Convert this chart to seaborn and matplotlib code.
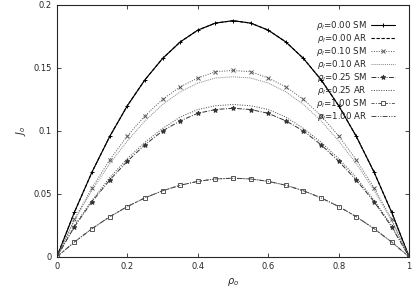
import numpy as np
import pandas as pd
import matplotlib
matplotlib.use("Agg")
import matplotlib.pyplot as plt
import seaborn as sns

rho_o = [0.0, 0.05, 0.1, 0.15, 0.2, 0.25, 0.3, 0.35, 0.4, 0.45, 0.5,
         0.55, 0.6, 0.65, 0.7, 0.75, 0.8, 0.85, 0.9, 0.95, 1.0]

half_sm000 = [0, 0.0356, 0.0675, 0.0956, 0.120, 0.1406, 0.1575, 0.1706, 0.180, 0.1856, 0.1875]
half_ar000 = [0, 0.0356, 0.0675, 0.0956, 0.120, 0.1406, 0.1575, 0.1706, 0.180, 0.1856, 0.1875]
half_sm010 = [0, 0.030, 0.055, 0.077, 0.096, 0.112, 0.125, 0.135, 0.142, 0.147, 0.148]
half_ar010 = [0, 0.029, 0.053, 0.074, 0.092, 0.108, 0.121, 0.131, 0.138, 0.142, 0.143]
half_sm025 = [0, 0.024, 0.044, 0.061, 0.076, 0.089, 0.100, 0.108, 0.114, 0.117, 0.118]
half_ar025 = [0, 0.025, 0.045, 0.063, 0.078, 0.091, 0.102, 0.111, 0.117, 0.120, 0.121]
half_sm100 = [0, 0.0119, 0.0225, 0.0319, 0.040, 0.0469, 0.0525, 0.0569, 0.060, 0.0619, 0.0625]
half_ar100 = [0, 0.0119, 0.0225, 0.0319, 0.040, 0.0469, 0.0525, 0.0569, 0.060, 0.0619, 0.0625]


def mirror(h):
    return h + h[-2::-1]


labels = [r"$\rho_l$=0.00 SM", r"$\rho_l$=0.00 AR",
          r"$\rho_l$=0.10 SM", r"$\rho_l$=0.10 AR",
          r"$\rho_l$=0.25 SM", r"$\rho_l$=0.25 AR",
          r"$\rho_l$=1.00 SM", r"$\rho_l$=1.00 AR"]
series = [half_sm000, half_ar000, half_sm010, half_ar010,
          half_sm025, half_ar025, half_sm100, half_ar100]

styles = [
    dict(color="black", ls="-", marker="+", ms=3.5, lw=0.8),
    dict(color="black", ls=(0, (3, 1.5)), marker=None, lw=0.8),
    dict(color="#555555", ls=(0, (1, 1.5)), marker="x", ms=3, lw=0.7),
    dict(color="#888888", ls=(0, (1, 1)), marker=None, lw=0.7),
    dict(color="#333333", ls=(0, (5, 1.5, 1, 1.5)), marker="*", ms=3.5, lw=0.7),
    dict(color="#444444", ls=(0, (1, 1.5)), marker=None, lw=0.7),
    dict(color="#555555", ls=(0, (3, 1.5, 1, 1.5)), marker="s", ms=2.5, mfc="white", lw=0.7),
    dict(color="#444444", ls=(0, (5, 1.5, 1, 1.5, 1, 1.5)), marker=None, lw=0.7),
]

sns.set_style("ticks")
plt.rcParams["font.family"] = ["DejaVu Sans"]
fig = plt.figure(figsize=(4.15, 2.91), dpi=100)
ax = fig.add_axes([0.137, 0.117, 0.849, 0.866])

for lab, h, st in zip(labels, series, styles):
    df = pd.DataFrame({"x": rho_o, "y": mirror(h)})
    kw = dict(st)
    marker = kw.pop("marker")
    ls = kw.pop("ls")
    sns.lineplot(data=df, x="x", y="y", ax=ax, label=lab,
                 marker=marker if marker else None,
                 mec=kw.get("color"), mew=0.7, **kw)
    ax.lines[-1].set_linestyle(ls)

ax.set_xlim(0, 1)
ax.set_ylim(0, 0.2)
ax.set_xticks([0, 0.2, 0.4, 0.6, 0.8, 1])
ax.set_xticklabels(["0", "0.2", "0.4", "0.6", "0.8", "1"])
ax.set_yticks([0, 0.05, 0.1, 0.15, 0.2])
ax.set_yticklabels(["0", "0.05", "0.1", "0.15", "0.2"])
ax.tick_params(direction="in", top=True, right=True, labelsize=6, length=3, width=0.6)
for s in ax.spines.values():
    s.set_linewidth(0.8)
ax.set_xlabel(r"$\rho_o$", fontsize=7)
ax.set_ylabel(r"$J_o$", fontsize=7)
ax.legend(loc="upper right", frameon=False, markerfirst=False, fontsize=6.2,
          handlelength=2.8, handleheight=0.5, labelspacing=0.0,
          borderaxespad=1.6, handletextpad=0.5, borderpad=0.0)

fig.savefig("out.png", dpi=100)
